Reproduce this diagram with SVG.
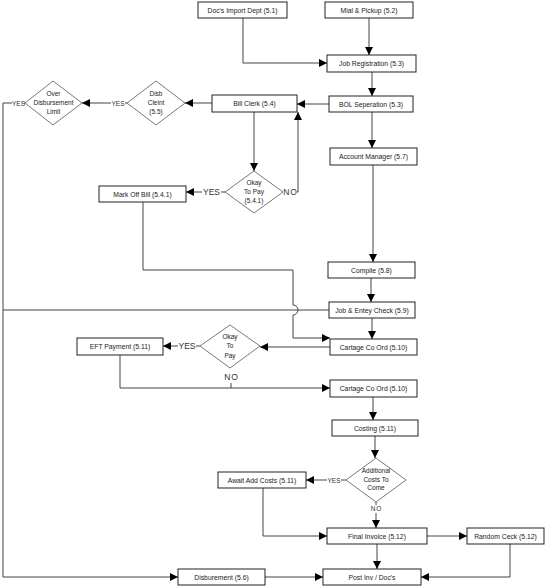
<svg xmlns="http://www.w3.org/2000/svg" width="554" height="586" viewBox="0 0 554 586">
<style>
.box{fill:#fff;stroke:#222;stroke-width:1}
.dia{fill:#fff;stroke:#555;stroke-width:0.8}
.t{font-family:"Liberation Sans",Arial,sans-serif;font-size:6.8px;fill:#222;text-anchor:middle}
.ts{font-family:"Liberation Sans",Arial,sans-serif;font-size:6.5px;fill:#222;text-anchor:middle}
.lab{font-family:"Liberation Sans",Arial,sans-serif;font-size:8.5px;fill:#333;text-anchor:middle}
.labs{font-family:"Liberation Sans",Arial,sans-serif;font-size:6.5px;fill:#333;text-anchor:middle}
.no{letter-spacing:1px}
.c{fill:none;stroke:#444;stroke-width:1}
.a{marker-end:url(#arr)}
</style>
<defs>
<marker id="arr" markerUnits="userSpaceOnUse" markerWidth="9" markerHeight="9" refX="8" refY="4" orient="auto">
<path d="M0,0 L8,4 L0,8 z" fill="#000"/>
</marker>
</defs>
<rect width="554" height="586" fill="#fff"/>
<g id="connectors">
<polyline class="c a" points="243,18 243,63 327,63"/>
<line class="c a" x1="369" y1="18" x2="369" y2="55"/>
<line class="c a" x1="372" y1="72" x2="372" y2="96"/>
<line class="c a" x1="329" y1="104" x2="297" y2="104"/>
<line class="c a" x1="372" y1="112" x2="372" y2="148"/>
<line class="c a" x1="212" y1="103" x2="185" y2="103"/>
<line class="c" x1="127" y1="103" x2="125" y2="103"/>
<line class="c a" x1="111" y1="103" x2="82" y2="103"/>
<text class="labs" x="118" y="105.5">YES</text>
<line class="c" x1="25" y1="103" x2="24" y2="103"/>
<text class="labs" x="18.5" y="105.5">YES</text>
<polyline class="c a" points="12,103 3,103 3,577 178,577"/>
<line class="c a" x1="254" y1="112" x2="254" y2="171"/>
<text class="lab no" x="290.5" y="195">NO</text>
<polyline class="c a" points="297,192 298,192 298,112"/>
<line class="c" x1="225" y1="192" x2="221" y2="192"/>
<line class="c a" x1="202" y1="192" x2="186" y2="192"/>
<text class="lab" x="211.5" y="195">YES</text>
<path class="c a" d="M143,202 L143,270 L293,270 L293,305 A5,5 0 0 1 293,315 L293,338 L330,338"/>
<line class="c" x1="3" y1="310" x2="329" y2="310"/>
<line class="c a" x1="373" y1="165" x2="373" y2="262"/>
<line class="c a" x1="371" y1="278" x2="371" y2="302"/>
<line class="c a" x1="372" y1="318" x2="372" y2="339"/>
<line class="c a" x1="330" y1="347" x2="260" y2="347"/>
<line class="c" x1="200" y1="346" x2="196" y2="346"/>
<line class="c a" x1="178" y1="346" x2="163" y2="346"/>
<text class="lab" x="187" y="349">YES</text>
<text class="lab no" x="231.5" y="380">NO</text>
<line class="c" x1="231" y1="383" x2="231" y2="388"/>
<polyline class="c a" points="120,355 120,388 330,388"/>
<line class="c a" x1="373" y1="397" x2="373" y2="420"/>
<line class="c a" x1="375" y1="436" x2="375" y2="458"/>
<line class="c" x1="346" y1="480" x2="341" y2="480"/>
<line class="c a" x1="327" y1="480" x2="306" y2="480"/>
<text class="labs" x="334" y="482.5">YES</text>
<text class="labs no" x="376.5" y="510.5">NO</text>
<line class="c" x1="376" y1="502" x2="376" y2="505"/>
<line class="c a" x1="376" y1="513" x2="376" y2="528"/>
<polyline class="c a" points="263,488 263,536 327,536"/>
<line class="c a" x1="377" y1="544" x2="377" y2="569"/>
<line class="c a" x1="427" y1="536" x2="467" y2="536"/>
<polyline class="c a" points="510,544 510,577 421,577"/>
<line class="c a" x1="265" y1="577" x2="323" y2="577"/>
</g>
<g id="n51"><rect class="box" x="198" y="2" width="89" height="16"/><text class="t" x="242.5" y="12.5">Doc's Import Dept  (5.1)</text></g>
<g id="n52"><rect class="box" x="325" y="2" width="88" height="16"/><text class="t" x="369" y="12.5">Mial &amp; Pickup (5.2)</text></g>
<g id="n53"><rect class="box" x="327" y="55" width="89" height="17"/><text class="t" x="371.5" y="66">Job Registration (5.3)</text></g>
<g id="n53b"><rect class="box" x="329" y="96" width="84" height="16"/><text class="t" x="371" y="106.5">BOL Seperation (5.3)</text></g>
<g id="n54"><rect class="box" x="212" y="95" width="85" height="17"/><text class="t" x="254.5" y="106">Bill Clerk (5.4)</text></g>
<g id="n57"><rect class="box" x="330" y="148" width="87" height="17"/><text class="t" x="373.5" y="159">Account Manager (5.7)</text></g>
<g id="d55"><polygon class="dia" points="156,81 185,103 156,125 127,103"/><text class="ts" x="156" y="96">Disb</text><text class="ts" x="156" y="105">Cleint</text><text class="ts" x="156" y="114">(5.5)</text></g>
<g id="dOver"><polygon class="dia" points="53,81 82,103 53,125 25,103"/><text class="ts" x="53.5" y="96">Over</text><text class="ts" x="53.5" y="105">Disbursement</text><text class="ts" x="53.5" y="114">Limit</text></g>
<g id="d541"><polygon class="dia" points="254,171 283,192 254,213 225,192"/><text class="ts" x="254" y="185">Okay</text><text class="ts" x="254" y="194">To Pay</text><text class="ts" x="254" y="203">(5.4.1)</text></g>
<g id="n541"><rect class="box" x="99" y="186" width="87" height="16"/><text class="t" x="142.5" y="196.5">Mark Off Bill (5.4.1)</text></g>
<g id="n58"><rect class="box" x="328" y="262" width="87" height="16"/><text class="t" x="371.5" y="272.5">Compile (5.8)</text></g>
<g id="n59"><rect class="box" x="329" y="302" width="86" height="16"/><text class="t" x="372" y="312.5">Job &amp; Entey  Check (5.9)</text></g>
<g id="n510a"><rect class="box" x="330" y="339" width="87" height="16"/><text class="t" x="373.5" y="349.5">Cartage Co Ord (5.10)</text></g>
<g id="dPay"><polygon class="dia" points="230,325 260,346 230,368 200,346"/><text class="ts" x="230" y="339">Okay</text><text class="ts" x="230" y="348">To</text><text class="ts" x="230" y="358">Pay</text></g>
<g id="n511"><rect class="box" x="77" y="338" width="86" height="17"/><text class="t" x="120" y="349">EFT Payment (5.11)</text></g>
<g id="n510b"><rect class="box" x="330" y="380" width="87" height="17"/><text class="t" x="373.5" y="391">Cartage Co Ord (5.10)</text></g>
<g id="n511b"><rect class="box" x="332" y="420" width="86" height="16"/><text class="t" x="375" y="430.5">Costing (5.11)</text></g>
<g id="dAdd"><polygon class="dia" points="376,458 406,480 376,502 346,480"/><text class="ts" x="376" y="473">Additional</text><text class="ts" x="376" y="481.5">Costs To</text><text class="ts" x="376" y="490">Come</text></g>
<g id="nAwait"><rect class="box" x="218" y="472" width="88" height="16"/><text class="t" x="262" y="482.5">Await Add Costs (5.11)</text></g>
<g id="n512"><rect class="box" x="327" y="528" width="100" height="16"/><text class="t" x="377" y="538.5">Final Invoice (5.12)</text></g>
<g id="nRandom"><rect class="box" x="467" y="528" width="77" height="16"/><text class="t" x="505.5" y="538.5">Random Ceck (5.12)</text></g>
<g id="nPost"><rect class="box" x="323" y="569" width="98" height="16"/><text class="t" x="372" y="579.5">Post Inv / Doc's</text></g>
<g id="n56"><rect class="box" x="178" y="569" width="87" height="16"/><text class="t" x="221.5" y="579.5">Disburement (5.6)</text></g>
</svg>
